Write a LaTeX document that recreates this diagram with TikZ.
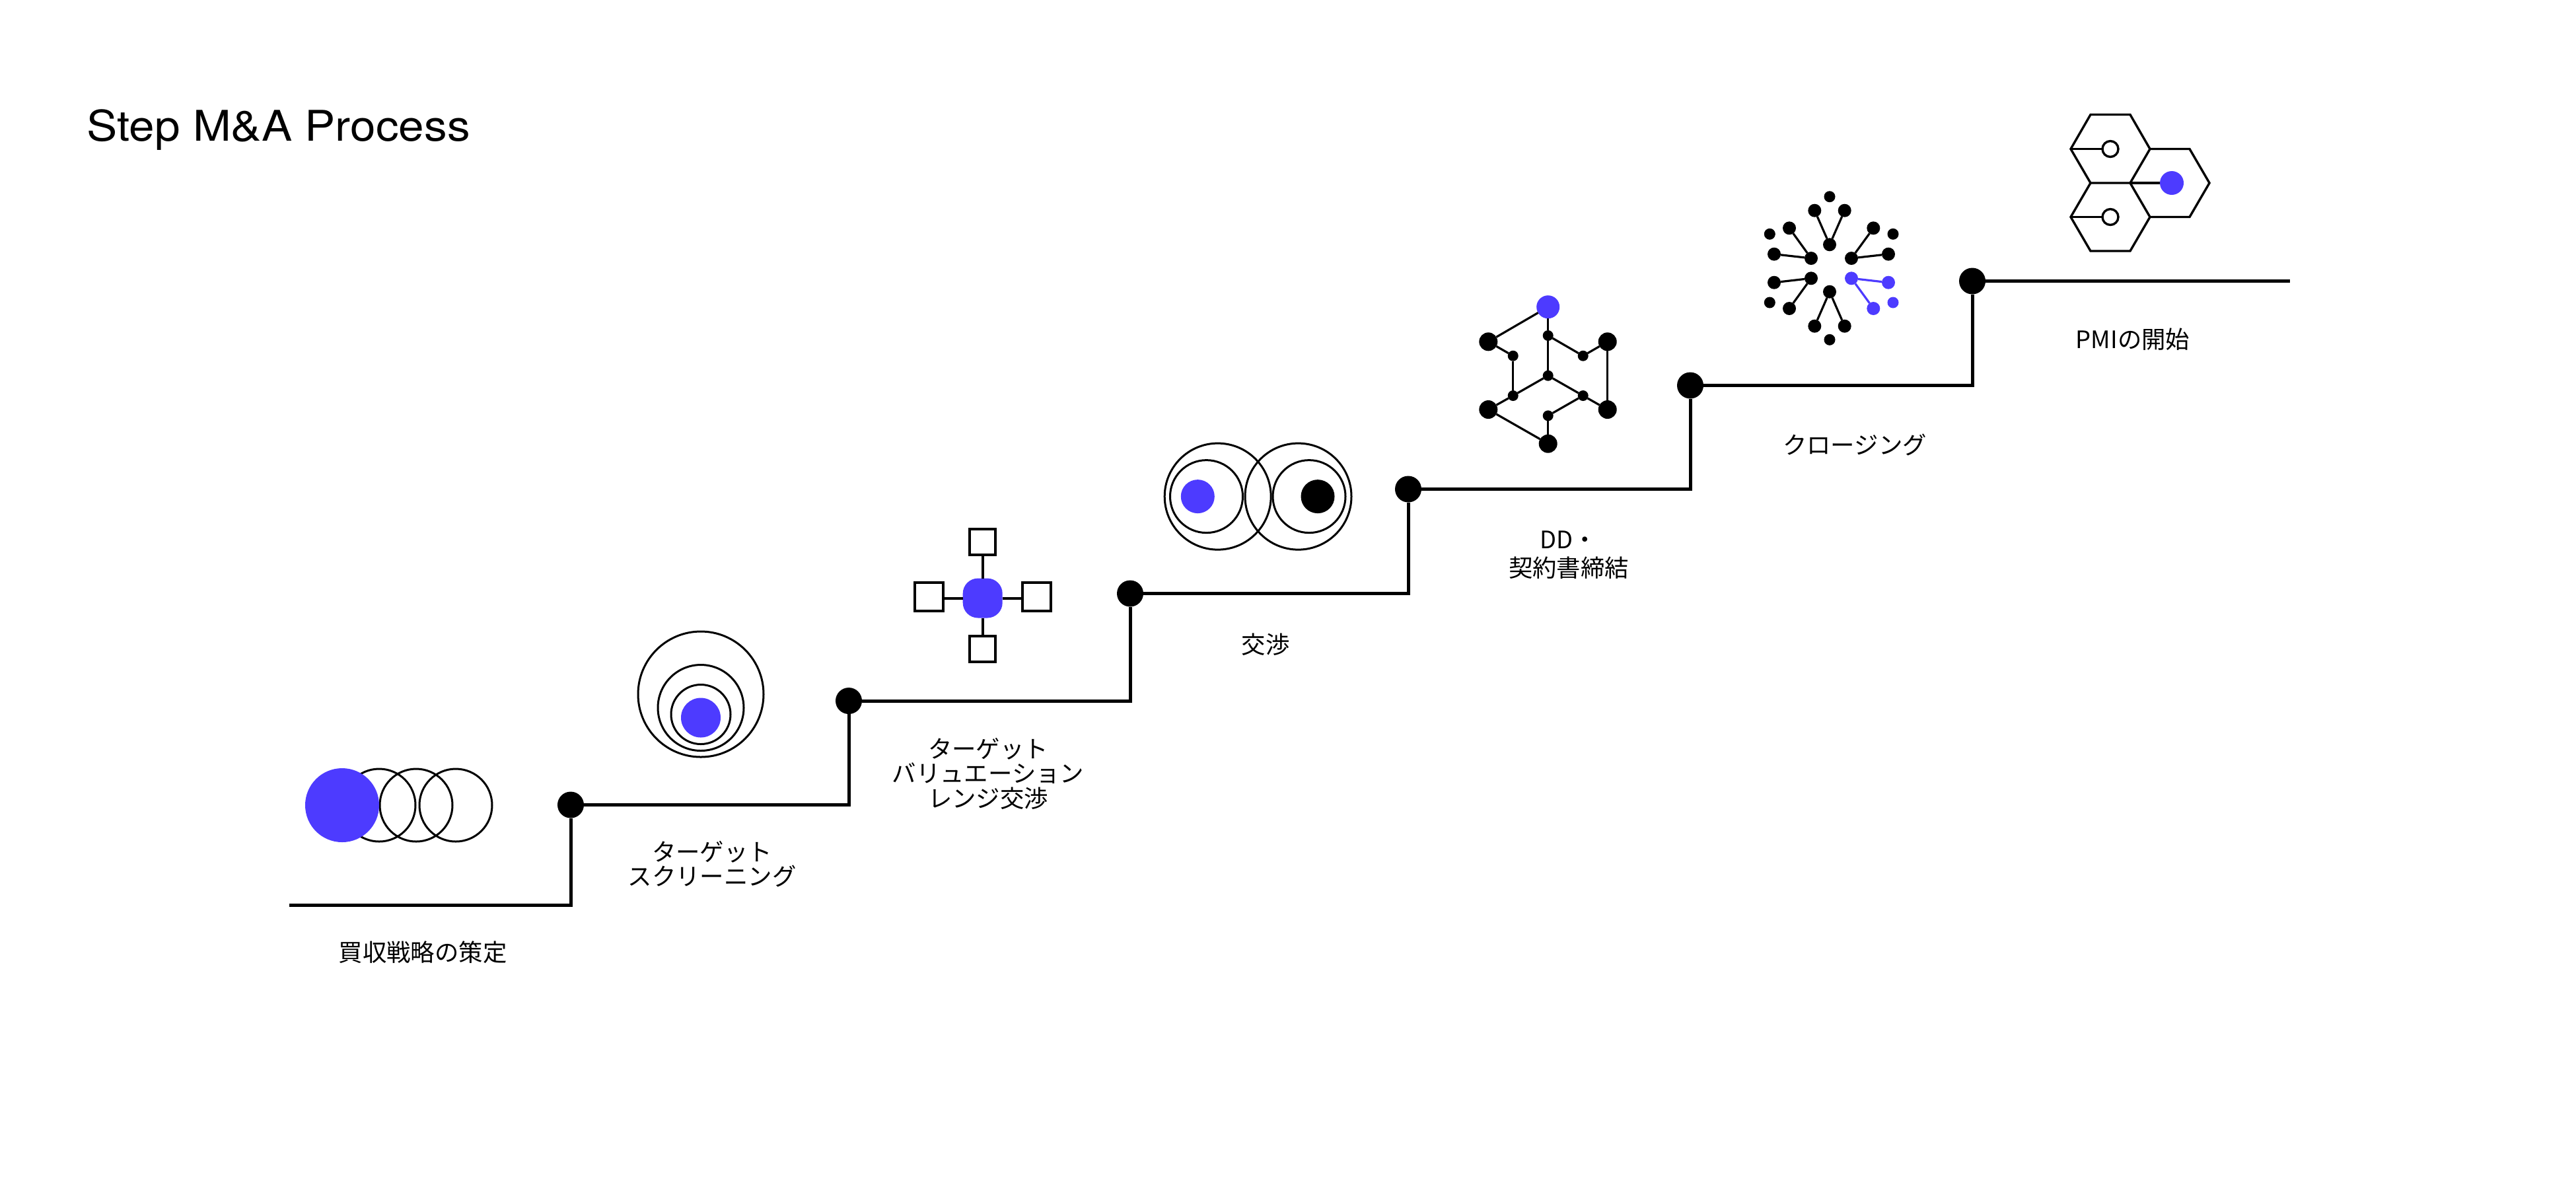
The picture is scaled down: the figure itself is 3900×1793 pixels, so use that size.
\documentclass[tikz,border=0pt]{standalone}
\usepackage{fontspec}
\setmainfont{TeX Gyre Heros}
\newfontfamily\jpfont{Noto Sans CJK JP}
\newfontfamily\titlefont[FakeStretch=1.083]{TeX Gyre Heros}
\definecolor{accent}{HTML}{4D3BFF}
\tikzset{
  x=0.25pt,y=-0.25pt,
  disc/.style={circle,inner sep=0pt,outer sep=0pt,fill=black,minimum size=#1*0.25pt},
  bluedisc/.style={disc=#1,fill=accent},
  ring/.style={circle,inner sep=0pt,outer sep=0pt,draw=black,line width=0.75pt,minimum size=#1*0.25pt},
  stair/.style={draw=black,line width=1.25pt,line join=miter},
  link/.style={draw=black,line width=0.8pt},
  bluelink/.style={draw=accent,line width=0.8pt},
  boxy/.style={rectangle,inner sep=0pt,outer sep=0pt,draw=black,line width=1pt,fill=white,minimum size=#1*0.25pt},
  hexline/.style={draw=black,line width=0.85pt,line join=miter},
  label/.style={font=\jpfont\fontsize{9.1pt}{9.375pt}\selectfont,align=center,inner sep=0pt,text=black},
  titletext/.style={font=\titlefont\fontsize{16pt}{19pt}\selectfont,anchor=base west,inner sep=0pt,text=black},
}
\begin{document}
\begin{tikzpicture}
\useasboundingbox (0,0) rectangle (3900,1793);
\node[titletext] (title) at (131,213) {Step M\&A Process};

% stair
\coordinate (s0) at (438,1370);
\node[disc=40] (d1) at (864,1218.5) {};
\node[disc=40] (d2) at (1285,1061) {};
\node[disc=40] (d3) at (1711,898.5) {};
\node[disc=40] (d4) at (2132,740.5) {};
\node[disc=40] (d5) at (2559,583.5) {};
\node[disc=40] (d6) at (2986,425.5) {};
\coordinate (s7) at (3467,425.5);
\draw[stair] (s0) -| (d1);
\draw[stair] (d1) -| (d2);
\draw[stair] (d2) -| (d3);
\draw[stair] (d3) -| (d4);
\draw[stair] (d4) -| (d5);
\draw[stair] (d5) -| (d6);
\draw[stair] (d6) -- (s7);

% labels
\node[label] (l1) at (640,1442) {買収戦略の策定};
\node[label] (l2) at (1078,1308) {ターゲット\\スクリーニング};
\node[label] (l3) at (1496,1171) {ターゲット\\バリュエーション\\レンジ交渉};
\node[label] (l4) at (1916,975.5) {交渉};
\node[label,font=\jpfont\fontsize{9.1pt}{10.75pt}\selectfont] (l5) at (2375,840) {DD・\\契約書締結};
\node[label] (l6) at (2808,673) {クロージング};
\node[label] (l7) at (3229,514) {PMIの開始};

% icon 1
\node[ring=110] (a2) at (574,1219) {};
\node[ring=110] (a3) at (630,1219) {};
\node[ring=110] (a4) at (690,1219) {};
\node[bluedisc=112] (a1) at (518,1219) {};

% icon 2
\node[ring=190] (b1) at (1061,1051) {};
\node[ring=130] (b2) at (1061,1071.5) {};
\node[ring=90] (b3) at (1061,1081.5) {};
\node[bluedisc=60] (b4) at (1061,1086.5) {};

% icon 3
\node[rectangle,rounded corners=5.75pt,fill=accent,inner sep=0pt,outer sep=0pt,minimum size=60*0.25pt] (c0) at (1487.7,905.5) {};
\node[boxy=39] (c1) at (1487.7,820.7) {};
\node[boxy=39] (c4) at (1487.7,982.3) {};
\node[boxy=43] (c2) at (1406.3,903.3) {};
\node[boxy=43] (c3) at (1569.7,903.3) {};
\draw[link,line width=1pt] (c0) -- (c1);
\draw[link,line width=1pt] (c0) -- (c4);
\draw[link,line width=1pt] (c0.center -| c2.east) -- (c0.west);
\draw[link,line width=1pt] (c0.east) -- (c0.center -| c3.west);

% icon 4
\node[ring=161] (e1) at (1843.7,751.6) {};
\node[ring=110] (e2) at (1826.5,751.6) {};
\node[bluedisc=51] (e3) at (1813.3,751.6) {};
\node[ring=161] (e4) at (1965.5,751.6) {};
\node[ring=110] (e5) at (1982,751.6) {};
\node[disc=51] (e6) at (1995,751.6) {};

% icon 5
\node[bluedisc=35] (f0) at (2343.7,464.7) {};
\node[disc=28] (fa) at (2253.3,517.3) {};
\node[disc=28] (fb) at (2433.7,517.3) {};
\node[disc=28] (fc) at (2253.3,620) {};
\node[disc=28] (fd) at (2433.7,620) {};
\node[disc=28] (fe) at (2343.7,671.7) {};
\node[disc=16] (s1) at (2343.7,508) {};
\node[disc=16] (s2) at (2290.7,538.7) {};
\node[disc=16] (s3) at (2396.7,538.7) {};
\node[disc=16] (s4) at (2343.7,568.7) {};
\node[disc=16] (s5) at (2290.7,599) {};
\node[disc=16] (s6) at (2396.7,599) {};
\node[disc=16] (s8) at (2343.7,629.3) {};
\foreach \p/\q in {f0/fa,f0/s1,fa/s2,s2/s5,s1/s3,s3/fb,fb/fd,s1/s4,s4/s5,s4/s6,s6/fd,s5/fc,fc/fe,s6/s8,s8/fe}
  \draw[link] (\p) -- (\q);

% icon 6
\foreach \n/\x/\y in {t/2770/297.7,tl/2679.3/354.3,tr/2866/354.3,bl/2679.3/458,bt/2770/514.3}
  \node[disc=17] (g\n) at (\x,\y) {};
\node[bluedisc=17] (gbr) at (2866,458) {};
\foreach \n/\x/\y/\a/\ax/\ay/\b/\bx/\by in {
  h1/2770/370.3/p1/2747.3/318.7/p2/2792.7/318.7,
  h2/2742/391/p3/2709/345.3/p4/2686/384.7,
  h3/2803/391/p5/2836.3/345.3/p6/2859/384.7,
  h4/2742/421.3/p7/2686/427.7/p8/2709/467,
  h5/2770/441.7/p9/2747.3/493.7/p10/2792.7/493.7}{
  \node[disc=20] (\n) at (\x,\y) {};
  \node[disc=20] (\a) at (\ax,\ay) {};
  \node[disc=20] (\b) at (\bx,\by) {};
  \draw[link] (\n) -- (\a);
  \draw[link] (\n) -- (\b);
}
\node[bluedisc=20] (h6) at (2803,421.3) {};
\node[bluedisc=20] (p11) at (2859,427.7) {};
\node[bluedisc=20] (p12) at (2836.3,467) {};
\draw[bluelink] (h6) -- (p11);
\draw[bluelink] (h6) -- (p12);

% icon 7
\draw[hexline] (3135,225.5) -- (3165,173.5) -- (3225,173.5) -- (3255,225.5) -- (3225,277) -- (3165,277) -- cycle;
\draw[hexline] (3255,225.5) -- (3315,225.5) -- (3345,277) -- (3315,328.5) -- (3255,328.5) -- (3225,277);
\draw[hexline] (3165,277) -- (3135,328.5) -- (3165,380) -- (3225,380) -- (3255,328.5);
\coordinate (va) at (3135,225.5);
\coordinate (vb) at (3225,277);
\coordinate (vc) at (3135,328.5);
\node[ring=24,line width=0.85pt] (ha) at (3195,225.5) {};
\node[ring=24,line width=0.85pt] (hc) at (3195,328.5) {};
\node[bluedisc=36] (hb) at (3288,277) {};
\draw[hexline] (va) -- (ha);
\draw[hexline] (vb) -- (hb);
\draw[hexline] (vc) -- (hc);
\end{tikzpicture}
\end{document}
